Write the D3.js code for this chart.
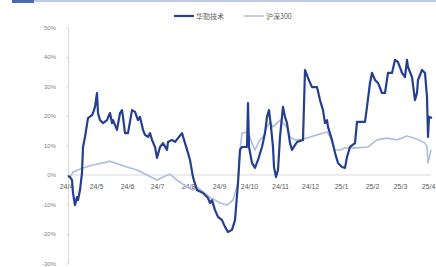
<!DOCTYPE html>
<html>
<head>
<meta charset="utf-8">
<script src="https://cdn.jsdelivr.net/npm/d3@7"></script>
<style>
  body { margin: 0; background: #fff; }
  svg { display: block; font-family: "Noto Sans CJK SC", "Noto Sans", sans-serif; }
</style>
</head>
<body>
<svg id="chart" width="436" height="267"></svg>
<script>
'use strict';

const seriesNames = ['华勤技术', '沪深300'];

const stockDates = ['2024-04-03','2024-04-05','2024-04-07','2024-04-08','2024-04-10','2024-04-12','2024-04-13','2024-04-15','2024-04-17','2024-04-18','2024-04-20','2024-04-23','2024-04-27','2024-04-28','2024-04-30','2024-05-02','2024-05-03','2024-05-05','2024-05-08','2024-05-12','2024-05-15','2024-05-17','2024-05-18','2024-05-22','2024-05-25','2024-05-27','2024-05-28','2024-05-30','2024-06-02','2024-06-06','2024-06-09','2024-06-12','2024-06-14','2024-06-17','2024-06-19','2024-06-22','2024-06-24','2024-06-26','2024-06-29','2024-07-01','2024-07-04','2024-07-07','2024-07-11','2024-07-12','2024-07-16','2024-07-19','2024-07-22','2024-07-26','2024-07-29','2024-08-01','2024-08-03','2024-08-06','2024-08-10','2024-08-16','2024-08-21','2024-08-23','2024-08-25','2024-08-28','2024-08-31','2024-09-04','2024-09-07','2024-09-10','2024-09-14','2024-09-17','2024-09-20','2024-09-22','2024-09-24','2024-09-29','2024-09-30','2024-10-01','2024-10-04','2024-10-07','2024-10-10','2024-10-14','2024-10-17','2024-10-19','2024-10-21','2024-10-23','2024-10-25','2024-10-26','2024-10-28','2024-10-30','2024-11-01','2024-11-04','2024-11-06','2024-11-08','2024-11-11','2024-11-13','2024-11-18','2024-11-24','2024-11-26','2024-11-29','2024-12-03','2024-12-08','2024-12-11','2024-12-14','2024-12-16','2024-12-18','2024-12-19','2024-12-23','2024-12-26','2024-12-29','2025-01-02','2025-01-05','2025-01-07','2025-01-10','2025-01-15','2025-01-17','2025-01-25','2025-01-27','2025-01-30','2025-02-01','2025-02-04','2025-02-07','2025-02-11','2025-02-14','2025-02-17','2025-02-21','2025-02-24','2025-02-27','2025-03-03','2025-03-06','2025-03-08','2025-03-09','2025-03-13','2025-03-16','2025-03-18','2025-03-19','2025-03-23','2025-03-26','2025-03-28','2025-03-29','2025-03-30','2025-04-02'];
const stockValues = [-0.3,-0.7,-1.7,-6.1,-10.2,-7.5,-8.5,-5.1,0.7,9.5,12.9,19.3,20.3,21.0,23.1,27.8,21.0,18.6,17.6,18.6,21.0,17.6,18.6,15.3,21.0,22.0,19.7,14.2,14.2,22.0,21.4,18.6,19.7,15.3,13.6,12.9,14.2,11.9,9.5,5.8,9.5,10.8,8.5,11.2,11.9,11.2,12.5,14.2,10.8,7.5,5.1,-0.7,-5.1,-6.1,-7.8,-9.5,-8.5,-11.9,-14.2,-15.3,-17.6,-19.3,-18.6,-15.3,-2.7,8.5,9.5,9.5,24.4,9.5,4.1,2.4,5.1,9.5,14.2,19.7,22.0,16.3,9.5,2.7,-0.7,1.7,12.9,23.1,19.7,17.6,10.8,8.5,11.2,11.9,35.6,32.9,29.8,29.8,25.4,22.0,17.6,18.6,16.3,11.9,7.5,4.1,2.7,2.4,6.1,9.5,10.8,18.0,18.0,23.1,31.2,34.6,32.2,31.2,27.8,27.8,34.6,34.6,39.0,38.3,34.6,33.2,39.0,36.6,33.2,25.4,27.8,32.2,35.6,34.6,26.4,12.9,19.7,19.3];

const indexDates = ['2024-04-03','2024-04-05','2024-04-08','2024-04-18','2024-04-28','2024-05-08','2024-05-15','2024-05-20','2024-06-01','2024-06-11','2024-06-21','2024-07-01','2024-07-07','2024-07-14','2024-07-21','2024-07-31','2024-08-06','2024-08-10','2024-08-23','2024-09-02','2024-09-09','2024-09-15','2024-09-20','2024-09-22','2024-09-24','2024-09-29','2024-10-02','2024-10-04','2024-10-07','2024-10-12','2024-10-15','2024-10-19','2024-10-22','2024-10-25','2024-11-01','2024-11-08','2024-11-11','2024-11-16','2024-11-21','2024-12-01','2024-12-08','2024-12-18','2024-12-21','2024-12-26','2024-12-31','2025-01-05','2025-01-17','2025-01-28','2025-02-06','2025-02-16','2025-02-26','2025-03-08','2025-03-18','2025-03-26','2025-03-28','2025-03-29','2025-04-01'];
const indexValues = [-0.3,-0.7,1.0,2.4,3.4,4.1,4.7,4.1,2.7,1.7,0,-1.7,-0.7,0.3,-1.7,-4.1,-5.1,-4.1,-7.5,-9.5,-10.2,-8.5,-2.7,8.5,14.2,14.6,12.9,10.8,8.5,11.9,12.9,16.3,18.0,16.3,18.6,16.3,12.9,11.9,11.9,12.9,13.6,14.6,12.9,8.5,8.5,9.2,9.2,9.5,11.9,12.5,11.9,13.2,12.2,10.8,9.5,4.1,8.5];

const yTicks = [50, 40, 30, 20, 10, 0, -10, -20, -30];
const xTickDates = ['2024-04-01','2024-05-01','2024-06-01','2024-07-01','2024-08-01','2024-09-01','2024-10-01','2024-11-01','2024-12-01','2025-01-01','2025-02-01','2025-03-01','2025-04-01'];

const parse = d3.timeParse('%Y-%m-%d');
const stock = stockDates.map((d, i) => ({date: parse(d), value: stockValues[i]}));
const index = indexDates.map((d, i) => ({date: parse(d), value: indexValues[i]}));

const svg = d3.select('#chart');

// header rule across the top
svg.append('rect').attr('x', 12).attr('y', 0).attr('width', 22).attr('height', 3).attr('fill', '#4a6bb3');
svg.append('line').attr('x1', 34).attr('x2', 436).attr('y1', 1).attr('y2', 1)
  .attr('stroke', '#7f99cb').attr('stroke-width', 1.2);

const x = d3.scaleTime()
  .domain([parse('2024-04-01'), parse('2025-04-01')])
  .range([66, 431]);

const y = d3.scaleLinear()
  .domain([-30, 50])
  .range([263.5, 27.5]);

// y axis
const yAxis = svg.append('g')
  .attr('transform', 'translate(68,0)')
  .call(d3.axisLeft(y).tickValues(yTicks).tickSize(2).tickSizeOuter(0).tickPadding(10)
    .tickFormat(d => d + '%'));
yAxis.select('.domain').attr('stroke', '#d9d9d9');
yAxis.selectAll('.tick line').attr('stroke', '#d9d9d9');
yAxis.selectAll('text').attr('fill', '#7f7f7f').style('font-size', '6px');

// zero line
svg.append('line')
  .attr('x1', 68).attr('x2', 431)
  .attr('y1', y(0)).attr('y2', y(0))
  .attr('stroke', '#d9d9d9').attr('stroke-width', 1);

// x axis labels below zero line
const xAxis = svg.append('g')
  .attr('transform', 'translate(0,' + (y(0) + 9) + ')')
  .call(d3.axisBottom(x).tickValues(xTickDates.map(parse)).tickSize(0).tickPadding(0)
    .tickFormat(d3.timeFormat('%y/%-m')));
xAxis.select('.domain').remove();
xAxis.selectAll('text').attr('fill', '#595959').style('font-size', '7px');
xAxis.selectAll('.tick:last-of-type text').attr('dx', -3);

const line = d3.line()
  .x(d => x(d.date))
  .y(d => y(d.value));

svg.append('path')
  .datum(index)
  .attr('d', line)
  .attr('fill', 'none')
  .attr('stroke', '#adbde0')
  .attr('stroke-width', 1.6)
  .attr('stroke-linejoin', 'round');

svg.append('path')
  .datum(stock)
  .attr('d', line)
  .attr('fill', 'none')
  .attr('stroke', '#253f8e')
  .attr('stroke-width', 2.2)
  .attr('stroke-linejoin', 'round');

// legend
const legend = svg.append('g').attr('class', 'legend');
const legendItems = [
  {name: seriesNames[0], color: '#253f8e', width: 2.2, x: 174},
  {name: seriesNames[1], color: '#adbde0', width: 1.5, x: 244}
];
legendItems.forEach(d => {
  legend.append('line')
    .attr('x1', d.x).attr('x2', d.x + 20)
    .attr('y1', 16).attr('y2', 16)
    .attr('stroke', d.color).attr('stroke-width', d.width);
  legend.append('text')
    .attr('x', d.x + 22).attr('y', 18.5)
    .attr('fill', '#595959')
    .style('font-size', '7px')
    .text(d.name);
});
</script>
</body>
</html>
